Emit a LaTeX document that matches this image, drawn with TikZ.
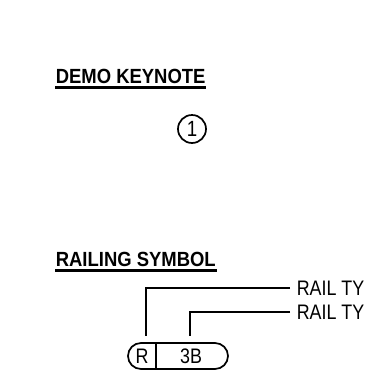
\documentclass[tikz,border=0pt]{standalone}
\usepackage{fontspec}
\setmainfont{Liberation Sans}
\newfontfamily\headfont[FakeStretch=0.9]{Liberation Sans Bold}
\newfontfamily\tagfont[FakeStretch=0.85]{Liberation Sans}
\usepackage{xcolor}
\usepackage{tikz}

\begin{document}
\begin{tikzpicture}[x=1pt, y=-1pt, line width=1.7pt,
      heading/.style={anchor=base west, inner sep=0pt, font=\headfont\fontsize{20.5}{24}\selectfont},
      tagtext/.style={inner sep=0pt, font=\tagfont\fontsize{21}{24}\selectfont},
      leader/.style={line width=1.8pt}
      ]
      \useasboundingbox (0,0) rectangle (365,376);
      % demo keynote
      \node[heading] (demo) at (55,83) {DEMO KEYNOTE};
      \draw[line width=2.2pt] ([yshift=-4.5pt]demo.base west) -- ([yshift=-4.5pt]demo.base east);
      \node[circle, draw, minimum size=28pt, inner sep=0pt, font=\tagfont\fontsize{22}{24}\selectfont] (key1) at (192,129) {1};
      % railing symbol
      \node[heading] (railing) at (55,266) {RAILING SYMBOL};
      \draw[line width=2.2pt] ([yshift=-4.5pt]railing.base west) -- ([yshift=-4.5pt]railing.base east);
      \node[draw, rounded corners=13pt, minimum width=100pt, minimum height=26pt, inner sep=0pt] (tag) at (178,356) {};
      \coordinate (split) at (156,356);
      \draw (split |- tag.north) -- (split |- tag.south);
      \node[tagtext] (tagR) at (142,356) {R};
      \node[tagtext] (tag3B) at (191,356) {3B};
      \node[tagtext, anchor=base west, inner xsep=6pt] (rail1) at (290,295) {RAIL TY};
      \node[tagtext, anchor=base west, inner xsep=6pt] (rail2) at (290,319) {RAIL TY};
      \coordinate (legR) at (146,336);
      \coordinate (leg3B) at (190,336);
      \draw[leader] (rail1.west) -| (legR);
      \draw[leader] (rail2.west) -| (leg3B);
\end{tikzpicture}
\end{document}
